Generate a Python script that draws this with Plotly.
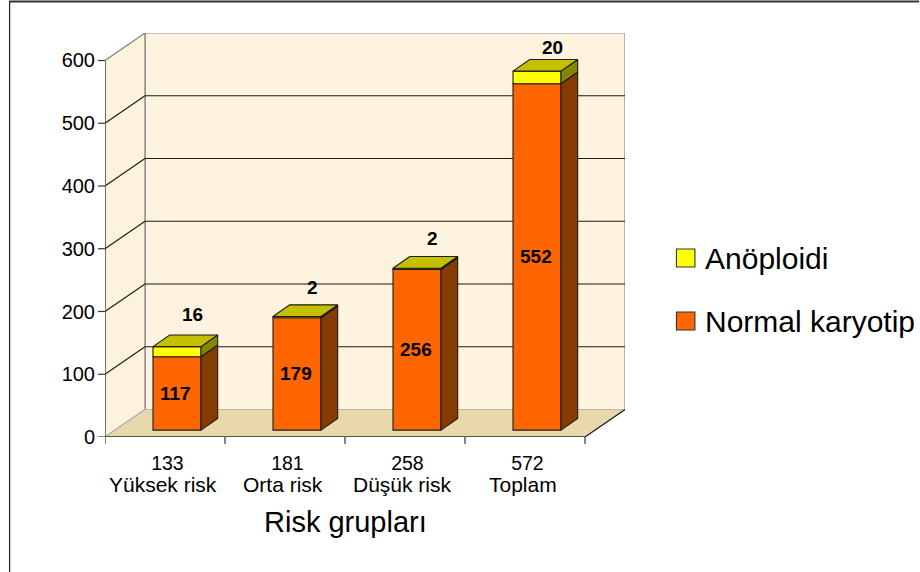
import plotly.graph_objects as go

# Risk groups and karyotype counts
group_totals = [133, 181, 258, 572]
group_names = ["Yüksek risk", "Orta risk", "Düşük risk", "Toplam"]
normal_karyotype = [117, 179, 256, 552]
aneuploidy = [16, 2, 2, 20]
y_ticks = [0, 100, 200, 300, 400, 500, 600]

# Pseudo-3D projection, in axis units
WALL_DX = 1 / 3
WALL_DY = 43.8
BAR_WIDTH = 0.4
BAR_CENTER = 0.6
BAR_BASE = 11.0
BAR_DX = 0.139
BAR_DY = 18.6
N = len(group_names)
TOP_LABEL_LIFT = [33, 28, 29, 19]

ORANGE, ORANGE_SIDE = "#FF6600", "#843C00"
YELLOW, YELLOW_SIDE, YELLOW_TOP = "#FFFF00", "#868600", "#C4C000"
DARK = "#1c1c1c"

fig = go.Figure()


def polygon(xs, ys, fill, line=DARK, width=1.1):
    fig.add_trace(go.Scatter(
        x=xs + xs[:1], y=ys + ys[:1], mode="lines", fill="toself",
        fillcolor=fill, line=dict(color=line, width=width),
        hoverinfo="skip", showlegend=False))


def wall_shape(pts, fill, line_color, width=1.2):
    path = "M " + " L ".join(f"{x},{y}" for x, y in pts) + " Z"
    fig.add_shape(type="path", path=path, xref="x", yref="y", layer="below",
                  fillcolor=fill, line=dict(color=line_color, width=width))


def wall_line(x0, y0, x1, y1, color=DARK, width=1.1):
    fig.add_shape(type="line", x0=x0, y0=y0, x1=x1, y1=y1, xref="x", yref="y",
                  layer="below", line=dict(color=color, width=width))


# Chart walls and floor
top = y_ticks[-1]
wall_shape([(WALL_DX, WALL_DY), (N + WALL_DX, WALL_DY),
            (N + WALL_DX, top + WALL_DY), (WALL_DX, top + WALL_DY)],
           "#FDF3DF", "#8c8c8c")
wall_shape([(0, 0), (WALL_DX, WALL_DY), (WALL_DX, top + WALL_DY), (0, top)],
           "#FDF2DC", "#808080")
wall_shape([(0, 0), (N, 0), (N + WALL_DX, WALL_DY), (WALL_DX, WALL_DY)],
           "#E9D8AC", "#b8b8b0")

# Gridlines run along the side wall and across the back wall
for t in y_ticks[1:-1]:
    wall_line(0, t, WALL_DX, t + WALL_DY)
    wall_line(WALL_DX, t + WALL_DY, N + WALL_DX, t + WALL_DY)
wall_line(N, 0, N + WALL_DX, WALL_DY)

# Front faces of the stacked columns
centers = [i + BAR_CENTER for i in range(N)]
tops_normal = [BAR_BASE + v for v in normal_karyotype]
fig.add_trace(go.Bar(
    x=centers, y=normal_karyotype, base=[BAR_BASE] * N, width=BAR_WIDTH,
    name="Normal karyotip", marker=dict(color=ORANGE, line=dict(color=DARK, width=1.1)),
    showlegend=False))
fig.add_trace(go.Bar(
    x=centers, y=aneuploidy, base=tops_normal, width=BAR_WIDTH,
    name="Anöploidi", marker=dict(color=YELLOW, line=dict(color=DARK, width=1.1)),
    showlegend=False))

# Side and top faces of the columns
for c, low, mid, hi in zip(centers, [BAR_BASE] * N, tops_normal,
                           [t + a for t, a in zip(tops_normal, aneuploidy)]):
    r = c + BAR_WIDTH / 2
    l = c - BAR_WIDTH / 2
    polygon([r, r + BAR_DX, r + BAR_DX, r],
            [low, low + BAR_DY, mid + BAR_DY, mid], ORANGE_SIDE)
    polygon([r, r + BAR_DX, r + BAR_DX, r],
            [mid, mid + BAR_DY, hi + BAR_DY, hi], YELLOW_SIDE)
    polygon([l, r, r + BAR_DX, l + BAR_DX],
            [hi, hi, hi + BAR_DY, hi + BAR_DY], YELLOW_TOP)

# Value labels
label_font = dict(family="Liberation Sans", size=19, color="#000000")
for c, low, n, a, lift in zip(centers, [BAR_BASE] * N, normal_karyotype, aneuploidy,
                              TOP_LABEL_LIFT):
    fig.add_annotation(x=c - 0.01, y=low + n / 2, text=f"<b>{n}</b>", showarrow=False,
                       font=label_font)
    fig.add_annotation(x=c + 0.125, y=low + n + a + BAR_DY + lift, text=f"<b>{a}</b>",
                       showarrow=False, font=label_font)

# Second line of the category labels
for i, name in enumerate(group_names):
    fig.add_annotation(xref="x", yref="paper", x=i + 0.48, y=(437 - 484) / 404, text=name,
                       showarrow=False, yanchor="middle",
                       font=dict(family="Liberation Sans", size=21, color="#000000"))

# Legend drawn by hand for its wide row spacing
for name, color, top_px in [("Anöploidi", YELLOW, 249), ("Normal karyotip", ORANGE, 312)]:
    fig.add_shape(type="rect", xref="paper", yref="paper",
                  x0=(677 - 105) / 520.5, x1=(695.5 - 105) / 520.5,
                  y0=(437 - top_px - 18) / 404, y1=(437 - top_px) / 404,
                  fillcolor=color, line=dict(color="#333333", width=1.1))
    fig.add_annotation(xref="paper", yref="paper", x=(703.5 - 105) / 520.5,
                       y=(437 - top_px - 9) / 404, text=name, showarrow=False,
                       xanchor="left", yanchor="middle",
                       font=dict(family="Liberation Sans", size=30, color="#000000"))

# Axis title
fig.add_annotation(xref="x", yref="paper", x=2, y=(437 - 522) / 404,
                   text="Risk grupları", showarrow=False, yanchor="middle",
                   font=dict(family="Liberation Sans", size=29, color="#000000"))

# Figure frame
fig.add_shape(type="line", xref="paper", yref="paper", x0=(9 - 105) / 520.5, x1=(920 - 105) / 520.5,
              y0=(437 - 1.5) / 404, y1=(437 - 1.5) / 404, line=dict(color="#333333", width=2))
fig.add_shape(type="line", xref="paper", yref="paper", x0=(9.5 - 105) / 520.5, x1=(9.5 - 105) / 520.5,
              y0=(437 - 572) / 404, y1=(437 - 1) / 404, line=dict(color="#222222", width=1.2))

fig.update_layout(
    width=920, height=572, margin=dict(l=105, r=294.5, t=33, b=135),
    paper_bgcolor="white", plot_bgcolor="rgba(0,0,0,0)",
    barmode="overlay", showlegend=False,
    xaxis=dict(range=[0, N + WALL_DX], showgrid=False, zeroline=False,
               tickmode="array", tickvals=[i + 0.52 for i in range(N)],
               ticktext=[str(t) for t in group_totals],
               ticks="", showline=False, ticklabelstandoff=12,
               tickfont=dict(family="Liberation Sans", size=19.5, color="#000000")),
    yaxis=dict(range=[0, top + WALL_DY], showgrid=False, zeroline=False,
               tickmode="array", tickvals=y_ticks, ticks="", showline=False,
               ticklabelstandoff=9,
               tickfont=dict(family="Liberation Sans", size=20, color="#000000")),
)

# Front axis lines and tick marks
wall_line(0, 0, N, 0, "#333333", 1.4)
wall_line(0, 0, 0, top, "#555555", 1.4)
for t in y_ticks:
    fig.add_shape(type="line", xref="paper", yref="y", x0=-7 / 520.5, x1=0, y0=t, y1=t,
                  line=dict(color="#333333", width=1.2))
for i in range(N + 1):
    fig.add_shape(type="line", xref="x", yref="paper", x0=i, x1=i, y0=-7 / 404, y1=0,
                  line=dict(color="#333333", width=1.2))

fig.write_html("out.html")
